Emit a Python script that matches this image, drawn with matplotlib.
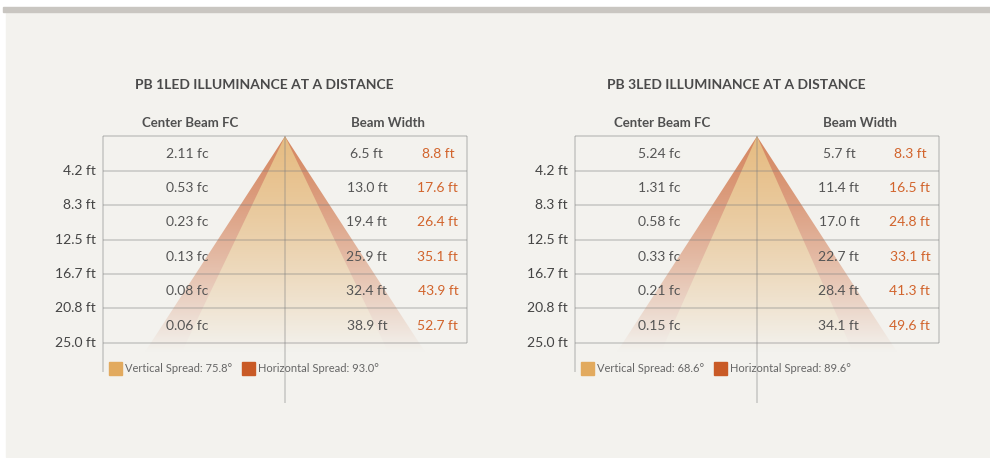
import numpy as np
import matplotlib.pyplot as plt
import matplotlib.transforms as mtransforms
from matplotlib.patches import Polygon, Rectangle
from matplotlib.colors import to_rgb

plt.rcParams['font.family'] = ['Lato', 'DejaVu Sans']

# ---- data ----
distances = [4.2, 8.3, 12.5, 16.7, 20.8, 25.0]

titles = ["PB 1LED ILLUMINANCE AT A DISTANCE", "PB 3LED ILLUMINANCE AT A DISTANCE"]
fc_1led = [2.11, 0.53, 0.23, 0.13, 0.08, 0.06]
vert_1led = [6.5, 13.0, 19.4, 25.9, 32.4, 38.9]
horiz_1led = [8.8, 17.6, 26.4, 35.1, 43.9, 52.7]
fc_3led = [5.24, 1.31, 0.58, 0.33, 0.21, 0.15]
vert_3led = [5.7, 11.4, 17.0, 22.7, 28.4, 34.1]
horiz_3led = [8.3, 16.5, 24.8, 33.1, 41.3, 49.6]
v_spread = [75.8, 68.6]
h_spread = [93.0, 89.6]

# ---- style ----
W, H = 990, 458
BG = '#F3F2EE'
C_VERT = '#E2AA5E'
C_HORIZ = '#C95A26'
TXT = '#555555'
ORANGE = '#D2642C'

fig = plt.figure(figsize=(W / 100, H / 100), dpi=100)
fig.patch.set_facecolor('white')

# page in pixel coordinates
page = fig.add_axes([0, 0, 1, 1])
page.set_xlim(0, W)
page.set_ylim(H, 0)
page.axis('off')
page.add_patch(Rectangle((6, 12), W - 6, 445, color=BG, zorder=0))
page.add_patch(Rectangle((3, 7), W - 3, 5, color='#C9C6C1', zorder=0))

px_per_ft = (343 - 171) / (distances[-1] - distances[0])
top_px = 171 - distances[0] * px_per_ft
bottom_px = 403
ft_bottom = (bottom_px - top_px) / px_per_ft
d_end = (352 - top_px) / px_per_ft
box_w = 364


def gradient_triangle(ax, half_end, color, a0):
    t = np.linspace(0, 1, 256)
    a = a0 * (1 - t ** 1.3)
    bg = np.array(to_rgb(BG))
    c = np.array(to_rgb(color))
    rgb = bg[None, :] * (1 - a[:, None]) + c[None, :] * a[:, None]
    im = ax.imshow(rgb[:, None, :], extent=[-half_end, half_end, d_end, 0],
                   aspect='auto', interpolation='bilinear', zorder=1)
    poly = Polygon([(0, 0), (-half_end, d_end), (half_end, d_end)],
                   closed=True, transform=ax.transData)
    im.set_clip_path(poly)


def draw_panel(x0, title, fc, vert, horiz, vs, hs):
    ax = fig.add_axes([x0 / W, 1 - bottom_px / H, box_w / W, (bottom_px - top_px) / H])
    ax.patch.set_alpha(0)
    ax.axis('off')

    half_out = horiz[-1] / 2 * d_end / distances[-1]
    half_in = vert[-1] / 2 * d_end / distances[-1]
    xl = (box_w / 2) / (140 / half_out)

    gradient_triangle(ax, half_out, C_HORIZ, 0.70)
    gradient_triangle(ax, half_in, C_VERT, 0.74)
    ax.set_xlim(-xl, xl)
    ax.set_ylim(ft_bottom, 0)

    line_kw = dict(color='#808080', alpha=0.33, lw=1.3, zorder=3, clip_on=False)
    ax.hlines([0] + distances, -xl, xl, **line_kw)
    ax.vlines(-xl, 0, 28.5, **line_kw)
    ax.vlines(xl, 0, distances[-1], **line_kw)
    ax.vlines(0, 0, ft_bottom, **line_kw)

    tr = mtransforms.blended_transform_factory(ax.transAxes, ax.transData)
    prev = 0
    for d, f, v, h in zip(distances, fc, vert, horiz):
        yc = (prev + d) / 2
        ax.text(0.231, yc, f"{f:.2f} fc", transform=tr, ha='center', va='center',
                fontsize=10, color=TXT, zorder=5)
        ax.text(0.725, yc, f"{v:.1f} ft", transform=tr, ha='center', va='center',
                fontsize=10, color=TXT, zorder=5)
        ax.text(0.920, yc, f"{h:.1f} ft", transform=tr, ha='center', va='center',
                fontsize=10, color=ORANGE, zorder=5)
        ax.text(-0.02, d, f"{d:.1f} ft", transform=tr, ha='right', va='center',
                fontsize=10, color='#444444', clip_on=False)
        prev = d

    # title and headers (page pixels)
    page.text(x0 + 32, 85, title, ha='left', va='center', fontsize=10,
              fontweight='bold', color='#4A4A4A')
    page.text(x0 + 87, 123, "Center Beam FC", ha='center', va='center',
              fontsize=9.5, fontweight='bold', color='#505050')
    page.text(x0 + 285, 123, "Beam Width", ha='center', va='center',
              fontsize=9.5, fontweight='bold', color='#505050')

    # legend
    page.add_patch(Rectangle((x0 + 6, 362), 13, 13, color=C_VERT))
    page.text(x0 + 22, 369, f"Vertical Spread: {vs}°", ha='left', va='center',
              fontsize=8, color='#666666')
    page.add_patch(Rectangle((x0 + 139, 362), 13, 13, color=C_HORIZ))
    page.text(x0 + 155, 369, f"Horizontal Spread: {hs}°", ha='left', va='center',
              fontsize=8, color='#666666')


draw_panel(103, titles[0], fc_1led, vert_1led, horiz_1led, v_spread[0], h_spread[0])
draw_panel(575, titles[1], fc_3led, vert_3led, horiz_3led, v_spread[1], h_spread[1])

fig.savefig("out.png", dpi=100, facecolor=fig.get_facecolor())
